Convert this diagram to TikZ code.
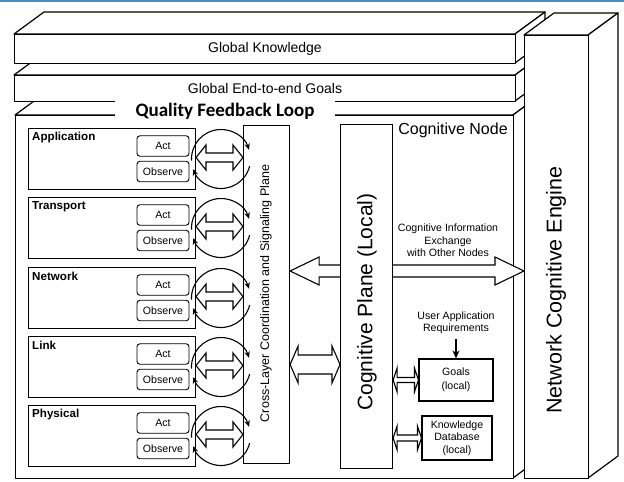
\documentclass[tikz,border=0pt]{standalone}
\usepackage{fontspec}
\setmainfont{Liberation Sans}
\newfontfamily\titlefont{Carlito}
\usetikzlibrary{calc,arrows.meta}

\definecolor{rulerblue}{RGB}{74,143,194}

\tikzset{
  face/.style={draw=black, fill=white, line width=1.2pt, line join=round, inner sep=0pt},
  layerbox/.style={draw, fill=white, line width=1pt, minimum width=167pt, minimum height=61pt,
                   inner sep=0pt, anchor=north west},
  layerlabel/.style={font=\fontsize{11.6}{13}\selectfont\bfseries, anchor=west, inner sep=0pt},
  opbox/.style={draw, fill=white, rounded corners=3pt, line width=0.9pt, minimum width=52pt,
                minimum height=20.5pt, inner sep=0pt, font=\fontsize{10.6}{12}\selectfont},
  cyc/.style={line width=1.1pt, -{Stealth[length=6.5pt,width=5.5pt]}},
  hollow/.style={draw, fill=white, line width=1.1pt, line join=miter},
  small/.style={font=\fontsize{10.6}{12.5}\selectfont, align=center, inner sep=0pt},
  plane/.style={draw, fill=white, line width=1.1pt, inner sep=0pt, anchor=north west},
}

% 3-D slab: name, left, top, right, bottom (top-down pixel values), depth (30,22)
\newcommand\slab[5]{%
  \filldraw[face] (#2,-#3) -- ++(30,22) -- (#4+30,-#3+22) -- (#4,-#3) -- cycle;
  \filldraw[face] (#4,-#3) -- ++(30,22) -- (#4+30,-#5+22) -- (#4,-#5) -- cycle;
  \node[face, anchor=north west, minimum width={(#4-#2)*1pt}, minimum height={(#5-#3)*1pt}]
    (#1) at (#2,-#3) {};}

% hollow double-headed arrow: left tip, right tip, shaft half width, head half width, head length
\newcommand\hollowdbl[5]{%
  \draw[hollow] let \p1=#1, \p2=#2 in
    (\x1,\y1) -- (\x1+#5,\y1+#4) -- (\x1+#5,\y1+#3) -- (\x2-#5,\y1+#3) -- (\x2-#5,\y1+#4)
    -- (\x2,\y1) -- (\x2-#5,\y1-#4) -- (\x2-#5,\y1-#3) -- (\x1+#5,\y1-#3) -- (\x1+#5,\y1-#4)
    -- cycle;}

% protocol layer with its act/observe loop: name, label, top
\newcommand\layer[3]{%
  \node[layerbox] (#1) at (28,-#3) {};
  \node[layerlabel] at (32,-#3-9.5) {#2};
  \node[opbox] (#1act) at (163,-#3-18) {Act};
  \node[opbox] (#1obs) at (163,-#3-43.5) {Observe};
  \draw[cyc] (221,-#3-31) ++(183:29.5) arc[start angle=183, end angle=18, radius=29.5];
  \draw[cyc] (221,-#3-31) ++(-14:29.5) arc[start angle=-14, end angle=-160, radius=29.5];
  \hollowdbl{($(#1.north east)+(0,-29.5)$)}{(cl.west)}{4.5pt}{12.5pt}{10pt}}

\begin{document}
\begin{tikzpicture}[x=1pt,y=1pt]
  \useasboundingbox (0,0) rectangle (624,-482);
  \fill[white] (0,0) rectangle (624,-482);
  \draw[rulerblue, line width=2pt] (0,-1) -- (624,-1);

  % stacked slabs, back to front
  \slab{cnode}{15}{115}{513}{478}
  \slab{goalsslab}{14}{75}{515}{101}
  \slab{knowslab}{14}{34}{515}{63}
  \slab{nce}{524}{35}{588}{478}

  \node[font=\fontsize{14}{16}\selectfont] at (265,-49) {Global Knowledge};
  \node[font=\fontsize{14}{16}\selectfont] at (265,-88) {Global End-to-end Goals};
  \node[fill=white, minimum width=220pt, minimum height=22pt, inner sep=0pt,
        font=\fontsize{19}{22}\titlefont\bfseries] (qfl) at (225,-111) {Quality Feedback Loop};
  \node[font=\fontsize{16}{18}\selectfont] (cnlabel) at (453,-130) {Cognitive Node};
  \node[rotate=90, font=\fontsize{21.5}{24}\selectfont] at (556,-290) {Network Cognitive Engine};

  % cross-layer plane and the protocol stack
  \node[plane, minimum width=46pt, minimum height=338pt] (cl) at (243,-125) {};
  \node[rotate=90, font=\fontsize{12.5}{14}\selectfont] at (266,-293.5)
    {Cross-Layer Coordination and Signaling Plane};

  \layer{app}{Application}{128}
  \layer{tra}{Transport}{197}
  \layer{net}{Network}{267}
  \layer{lnk}{Link}{336}
  \layer{phy}{Physical}{405}

  \coordinate (rowA) at (0,-271);
  \coordinate (rowB) at (0,-364.5);

  % exchange arrow runs behind the local cognitive plane
  \hollowdbl{(cl.east |- rowA)}{(nce.west |- rowA)}{6pt}{14pt}{29pt}

  \node[plane, minimum width=52pt, minimum height=344pt] (cp) at (340,-124) {};
  \node[rotate=90, font=\fontsize{21}{24}\selectfont] at (367,-302) {Cognitive Plane (Local)};

  \hollowdbl{(cl.east |- rowB)}{(cp.west |- rowB)}{9.5pt}{18.5pt}{8pt}

  \node[small] at (448,-240.5) {Cognitive Information\\Exchange\\with Other Nodes};
  \node[small] (uar) at (456,-323) {User Application\\Requirements};

  \node[draw, fill=white, line width=1.1pt, minimum width=74pt, minimum height=42pt, small]
    (goals) at (456,-380) {Goals\\[1.5pt](local)};
  \node[draw, fill=white, line width=1.1pt, minimum width=70pt, minimum height=44pt, small]
    (kdb) at (457,-438) {Knowledge\\Database\\(local)};

  \draw[line width=1.3pt, -{Stealth[length=8pt,width=7pt]}] ([yshift=-5pt]uar.south) -- (goals.north);
  \hollowdbl{(cp.east |- goals.west)}{(goals.west)}{2.5pt}{12pt}{4pt}
  \hollowdbl{(cp.east |- kdb.west)}{(kdb.west)}{3pt}{12pt}{4pt}
\end{tikzpicture}
\end{document}
